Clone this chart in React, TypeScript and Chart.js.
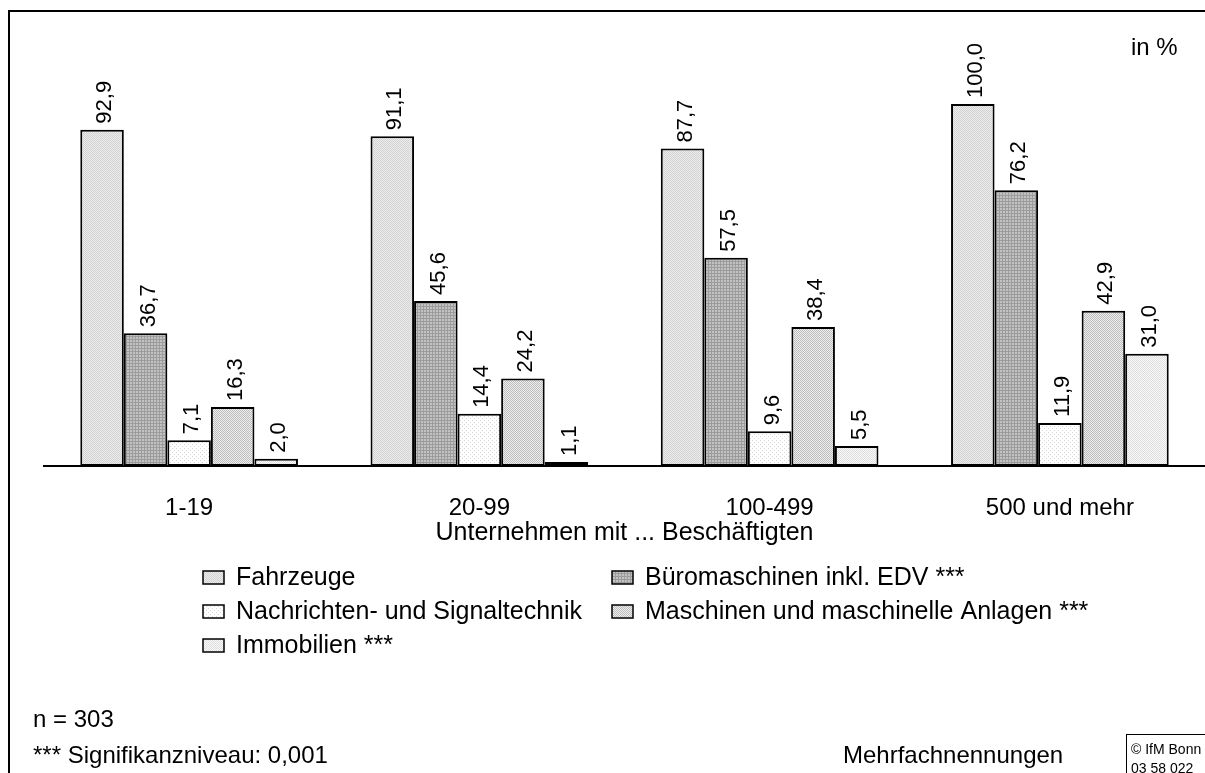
import React, { useEffect, useRef } from 'react';
import { Chart, registerables } from 'chart.js';

Chart.register(...registerables);

const categories = ['1-19', '20-99', '100-499', '500 und mehr'];
const seriesNames = [
  'Fahrzeuge',
  'Büromaschinen inkl. EDV ***',
  'Nachrichten- und Signaltechnik',
  'Maschinen und maschinelle Anlagen ***',
  'Immobilien ***',
];
const fahrzeuge = [92.9, 91.1, 87.7, 100.0];
const bueromaschinen = [36.7, 45.6, 57.5, 76.2];
const nachrichten = [7.1, 14.4, 9.6, 11.9];
const maschinen = [16.3, 24.2, 38.4, 42.9];
const immobilien = [2.0, 1.1, 5.5, 31.0];

const axisTitle = 'Unternehmen mit ... Beschäftigten';
const unitLabel = 'in %';
const noteN = 'n = 303';
const noteSig = '*** Signifikanzniveau: 0,001';
const noteMulti = 'Mehrfachnennungen';
const copyright1 = '© IfM Bonn';
const copyright2 = '03 58 022';

const FONT = "'Liberation Sans', Arial, sans-serif";

function makePattern(size: number, bg: string, fg: string, cells: number[][]): CanvasPattern | string {
  const c = document.createElement('canvas');
  c.width = size;
  c.height = size;
  const x = c.getContext('2d');
  if (!x) return bg;
  x.fillStyle = bg;
  x.fillRect(0, 0, size, size);
  x.fillStyle = fg;
  cells.forEach(([a, b]) => x.fillRect(a, b, 1, 1));
  const p = x.createPattern(c, 'repeat');
  return p || bg;
}

export default function App() {
  const ref = useRef<HTMLCanvasElement | null>(null);

  useEffect(() => {
    if (!ref.current) return;
    const fills = [
      makePattern(2, '#ececec', '#d2d2d2', [[0, 0], [1, 1]]),
      makePattern(3, '#c2c2c2', '#9c9c9c', [[0, 0], [0, 1], [0, 2], [1, 0], [2, 0]]),
      makePattern(4, '#ffffff', '#d6d6d6', [[0, 0], [2, 2]]),
      makePattern(2, '#eeeeee', '#bdbdbd', [[0, 0], [1, 1]]),
      makePattern(2, '#fafafa', '#dddddd', [[0, 0], [1, 1]]),
    ];
    const series = [fahrzeuge, bueromaschinen, nachrichten, maschinen, immobilien];

    const overlay = {
      id: 'overlay',
      afterDatasetsDraw(chart: any) {
        const ctx = chart.ctx as CanvasRenderingContext2D;
        ctx.save();
        ctx.fillStyle = '#000';
        // value labels
        chart.data.datasets.forEach((ds: any, di: number) => {
          const meta = chart.getDatasetMeta(di);
          meta.data.forEach((el: any, i: number) => {
            const v = ds.data[i] as number;
            const txt = v.toFixed(1).replace('.', ',');
            ctx.save();
            ctx.translate(el.x + 3, el.y - 6);
            ctx.rotate(-Math.PI / 2);
            ctx.font = `22px ${FONT}`;
            ctx.textAlign = 'left';
            ctx.textBaseline = 'middle';
            ctx.fillText(txt, 0, 0);
            ctx.restore();
          });
        });
        // frame
        ctx.strokeStyle = '#000';
        ctx.lineWidth = 2;
        ctx.strokeRect(9, 11, 1400, 1000);
        // texts
        ctx.font = `24px ${FONT}`;
        ctx.textBaseline = 'middle';
        ctx.textAlign = 'left';
        ctx.fillText(unitLabel, 1131, 48);
        ctx.textAlign = 'center';
        const ca = chart.chartArea;
        ctx.font = `25px ${FONT}`;
        ctx.fillText(axisTitle, (ca.left + ca.right) / 2, 533);
        // legend
        const legendPos = [
          [203, 578],
          [612, 578],
          [203, 612],
          [612, 612],
          [203, 646],
        ];
        ctx.textAlign = 'left';
        legendPos.forEach(([lx, ly], i) => {
          const ds = chart.data.datasets[i];
          ctx.fillStyle = ds.backgroundColor;
          ctx.fillRect(lx, ly - 7, 21, 13);
          ctx.lineWidth = 1.5;
          ctx.strokeStyle = '#000';
          ctx.strokeRect(lx, ly - 7, 21, 13);
          ctx.fillStyle = '#000';
          ctx.fillText(ds.label, lx + 33, ly);
        });
        // notes
        ctx.font = `24px ${FONT}`;
        ctx.fillText(noteN, 33, 720);
        ctx.fillText(noteSig, 33, 756);
        ctx.fillText(noteMulti, 843, 756);
        // copyright box
        ctx.lineWidth = 1;
        ctx.strokeRect(1126.5, 734.5, 200, 100);
        ctx.font = `14px ${FONT}`;
        ctx.fillText(copyright1, 1131, 750);
        ctx.fillText(copyright2, 1131, 769);
        ctx.restore();
      },
    };

    const chart = new Chart(ref.current, {
      type: 'bar',
      data: {
        labels: categories,
        datasets: series.map((d, i) => ({
          label: seriesNames[i],
          data: d,
          backgroundColor: fills[i] as any,
          borderColor: '#000',
          borderWidth: 2,
          borderSkipped: false,
          categoryPercentage: 0.75,
          barPercentage: 1,
        })),
      },
      options: {
        animation: false,
        responsive: true,
        maintainAspectRatio: false,
        layout: { padding: { top: 104, left: 44, right: 0, bottom: 0 } },
        plugins: {
          legend: { display: false },
          tooltip: { enabled: false },
          title: { display: false },
        },
        scales: {
          x: {
            grid: { display: false, drawTicks: false },
            border: { display: true, color: '#000', width: 2 },
            ticks: { color: '#000', font: { family: FONT, size: 24 }, padding: 28, maxRotation: 0 },
            afterFit: (scale: any) => {
              scale.height = 307;
            },
          },
          y: { display: false, min: 0, max: 100 },
        },
      },
      plugins: [overlay],
    });
    return () => chart.destroy();
  }, []);

  return (
    <div style={{ position: 'absolute', left: 0, top: 0, width: 1205, height: 773, background: '#fff' }}>
      <canvas ref={ref} />
    </div>
  );
}
